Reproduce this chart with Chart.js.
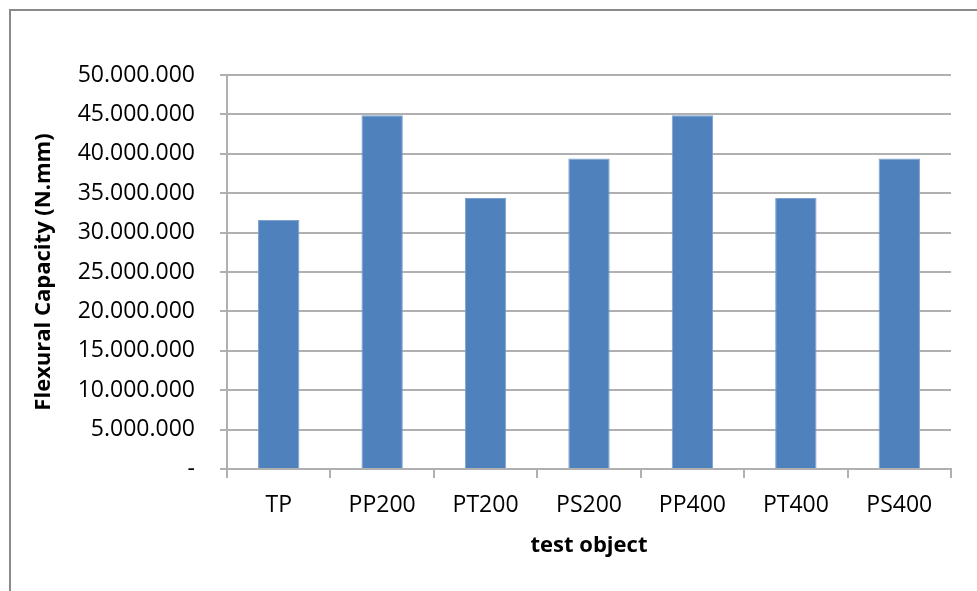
<!DOCTYPE html>
<html>
<head>
<meta charset="utf-8">
<script src="https://cdn.jsdelivr.net/npm/chart.js@4.4.1/dist/chart.umd.min.js"></script>
<style>
  html, body { margin: 0; padding: 0; background: #ffffff; overflow: hidden; }
  #frame { position: absolute; left: 9px; top: 9px; width: 2000px; height: 2000px;
           border-top: 2px solid #8a8a8a; border-left: 2px solid #8a8a8a; }
  #wrap { position: absolute; left: 0; top: 0; width: 977px; height: 591px; }
</style>
</head>
<body>
<div id="frame"></div>
<div id="wrap"><canvas id="c" width="977" height="591"></canvas></div>
<script>
const categories = ["TP", "PP200", "PT200", "PS200", "PP400", "PT400", "PS400"];
const flexuralCapacity = [31600000, 44900000, 34400000, 39400000, 44900000, 34400000, 39400000];
const yTickValues = [0, 5000000, 10000000, 15000000, 20000000, 25000000, 30000000, 35000000, 40000000, 45000000, 50000000];
const yTickLabels = ["-", "5.000.000", "10.000.000", "15.000.000", "20.000.000", "25.000.000", "30.000.000", "35.000.000", "40.000.000", "45.000.000", "50.000.000"];
const yTitle = "Flexural Capacity (N.mm)";
const xTitle = "test object";

const FONT = "'Open Sans', 'Liberation Sans', sans-serif";
const GRID = "#b0b0b0";

new Chart(document.getElementById("c"), {
  type: "bar",
  data: {
    labels: categories,
    datasets: [{
      data: flexuralCapacity,
      backgroundColor: "#4F81BD",
      borderColor: "#7fa1cf",
      borderWidth: 1,
      barPercentage: 0.4,
      categoryPercentage: 1.0
    }]
  },
  options: {
    responsive: false,
    animation: false,
    devicePixelRatio: 1,
    layout: { padding: { left: 27, right: 26, top: 75, bottom: 28 } },
    plugins: { legend: { display: false }, tooltip: { enabled: false } },
    scales: {
      x: {
        offset: true,
        grid: { display: true, drawOnChartArea: false, drawTicks: true, tickLength: 9, color: GRID, lineWidth: 2, offset: true },
        border: { display: true, color: GRID, width: 2 },
        ticks: { color: "#000", font: { family: FONT, size: 23 }, padding: 14, maxRotation: 0, autoSkip: false },
        title: { display: true, text: xTitle, color: "#000", font: { family: FONT, size: 22, weight: "bold" }, padding: { top: 4, bottom: 4 } },
        afterFit: (s) => { s.height = 94; }
      },
      y: {
        min: 0,
        max: 50000000,
        afterBuildTicks: (s) => { s.ticks = yTickValues.map(v => ({ value: v })); },
        grid: { color: GRID, lineWidth: 2, tickLength: 7, drawTicks: true },
        border: { display: true, color: GRID, width: 2 },
        ticks: {
          color: "#000",
          font: { family: FONT, size: 23 },
          padding: 25,
          callback: (v) => { const i = yTickValues.indexOf(v); return i >= 0 ? yTickLabels[i] : ""; }
        },
        title: { display: true, text: yTitle, color: "#000", font: { family: FONT, size: 22, weight: "bold" }, padding: { top: 4, bottom: 4 } },
        afterFit: (s) => { s.width = 200; }
      }
    }
  }
});
</script>
</body>
</html>
